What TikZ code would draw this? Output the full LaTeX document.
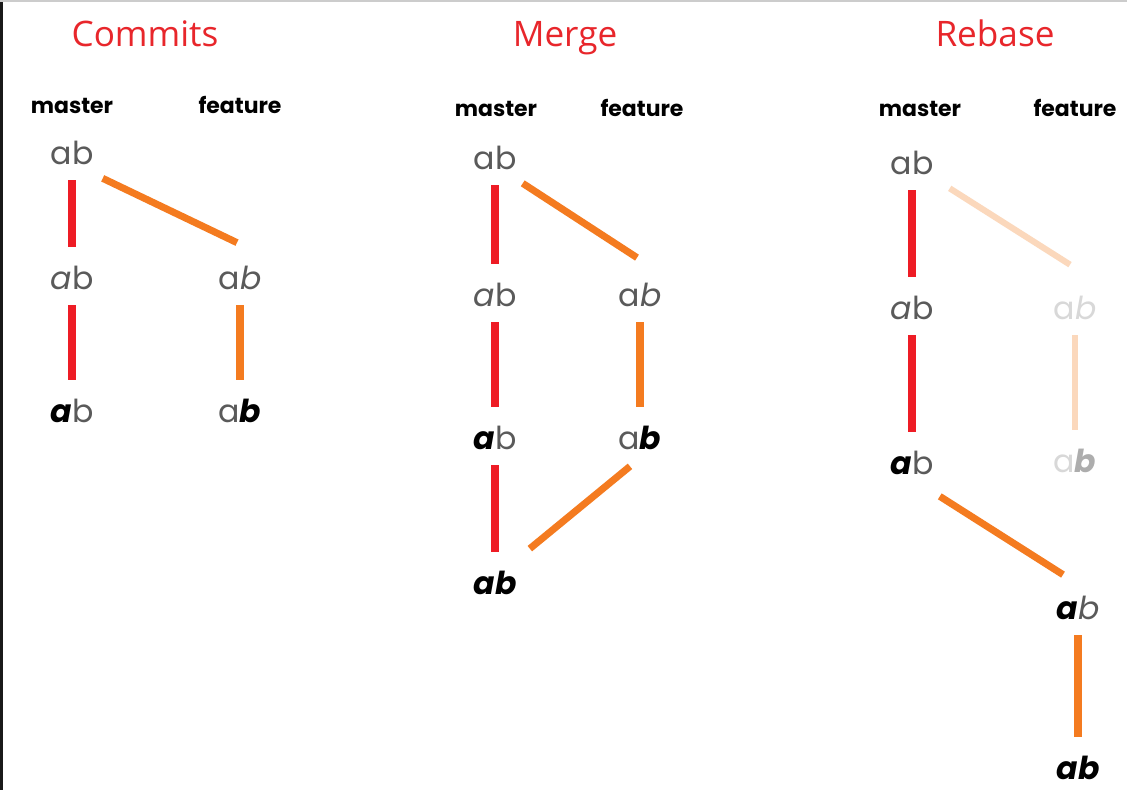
\documentclass[tikz,border=0pt]{standalone}
\usepackage{fontspec}
\setmainfont{Poppins}
\newfontfamily\titlefont{Open Sans}
\definecolor{titlered}{HTML}{E8262B}
\definecolor{linered}{HTML}{EE1C25}
\definecolor{lineorange}{HTML}{F47B20}
\definecolor{paleorange}{HTML}{FBD8BC}
\definecolor{txt}{HTML}{5A5A5A}
\definecolor{fade}{HTML}{D8D8D8}
\newcommand{\bi}[1]{\textbf{\textit{#1}}}
\begin{document}
\begin{tikzpicture}[x=0.02cm,y=-0.02cm,
  title/.style={font=\titlefont\fontsize{20}{24}\selectfont, text=titlered, anchor=base},
  branch/.style={font=\bfseries\fontsize{12.5}{15}\selectfont, anchor=base},
  commit/.style={font=\fontsize{18}{20}\selectfont, text=txt, inner sep=0pt, minimum width=0.8cm, minimum height=0.48cm},
  redline/.style={draw=linered, line width=4pt, shorten <=0.3cm, shorten >=0.38cm},
  orangeline/.style={draw=lineorange, line width=4pt},
  paleline/.style={draw=paleorange, line width=3.5pt}]
\useasboundingbox (0,0) rectangle (1127,790);
\fill[white] (0,0) rectangle (1127,790);
\draw[black!90, line width=0.06cm] (1.5,0)--(1.5,790);
\draw[gray!40, line width=0.04cm] (0,1)--(1127,1);
%titles
\node[title] (t1) at (145,47) {Commits};
\node[title] (t2) at (565,47) {Merge};
\node[title] (t3) at (995,47) {Rebase};
\node[branch] (cm) at (72,114) {master};
\node[branch] (cf) at (240,114) {feature};
\node[branch] (mm) at (496,117) {master};
\node[branch] (mf) at (642,117) {feature};
\node[branch] (rm) at (920,117) {master};
\node[branch] (rf) at (1075,117) {feature};
%commits
\node[commit] (c1) at (72,153) {ab};
\node[commit] (c2) at (72,278) {\textit{a}b};
\node[commit] (c3) at (72,411) {{\color{black}\bi{a}}b};
\node[commit] (cf2) at (240,278) {a\textit{b}};
\node[commit] (cf3) at (240,411) {a{\color{black}\bi{b}}};
\draw[redline] (c1) -- (c2);
\draw[redline] (c2) -- (c3);
\draw[orangeline, shorten <=0.3cm, shorten >=0.38cm] (cf2) -- (cf3);
\draw[orangeline] ([shift={(9,13)}]c1.south east) -- ([shift={(-3,-23)}]cf2.north);
%merge
\node[commit] (m1) at (495,158) {ab};
\node[commit] (m2) at (495,295) {\textit{a}b};
\node[commit] (m3) at (495,438) {{\color{black}\bi{a}}b};
\node[commit] (m4) at (495,583) {{\color{black}\bi{ab}}};
\node[commit] (mf2) at (640,295) {a\textit{b}};
\node[commit] (mf3) at (640,438) {a{\color{black}\bi{b}}};
\draw[redline] (m1) -- (m2);
\draw[redline] (m2) -- (m3);
\draw[redline] (m3) -- (m4);
\draw[orangeline, shorten <=0.3cm, shorten >=0.38cm] (mf2) -- (mf3);
\draw[orangeline] ([shift={(6,13)}]m1.south east) -- ([shift={(-3,-25)}]mf2.north);
\draw[orangeline] ([shift={(-10,16)}]mf3.south) -- ([shift={(13,-22)}]m4.north east);
%rebase
\node[commit] (r1) at (912,163) {ab};
\node[commit] (r2) at (912,308) {\textit{a}b};
\node[commit] (r3) at (912,463) {{\color{black}\bi{a}}b};
\node[commit, text=fade] (rf2) at (1075,308) {a\textit{b}};
\node[commit, text=fade] (rf3) at (1075,461) {a{\color{fade!80!black}\bi{b}}};
\node[commit] (r4) at (1078,608) {{\color{black}\bi{a}}\textit{b}};
\node[commit] (r5) at (1078,768) {{\color{black}\bi{ab}}};
\draw[redline] (r1) -- (r2);
\draw[redline] (r2) -- (r3);
\draw[paleline, shorten <=0.3cm, shorten >=0.38cm] (rf2) -- (rf3);
\draw[paleline] ([shift={(16,13)}]r1.south east) -- ([shift={(-5,-31)}]rf2.north);
\draw[orangeline] ([shift={(6,21)}]r3.south east) -- ([shift={(-15,-21)}]r4.north);
\draw[orangeline, shorten <=0.3cm, shorten >=0.38cm] (r4) -- (r5);
\end{tikzpicture}
\end{document}
